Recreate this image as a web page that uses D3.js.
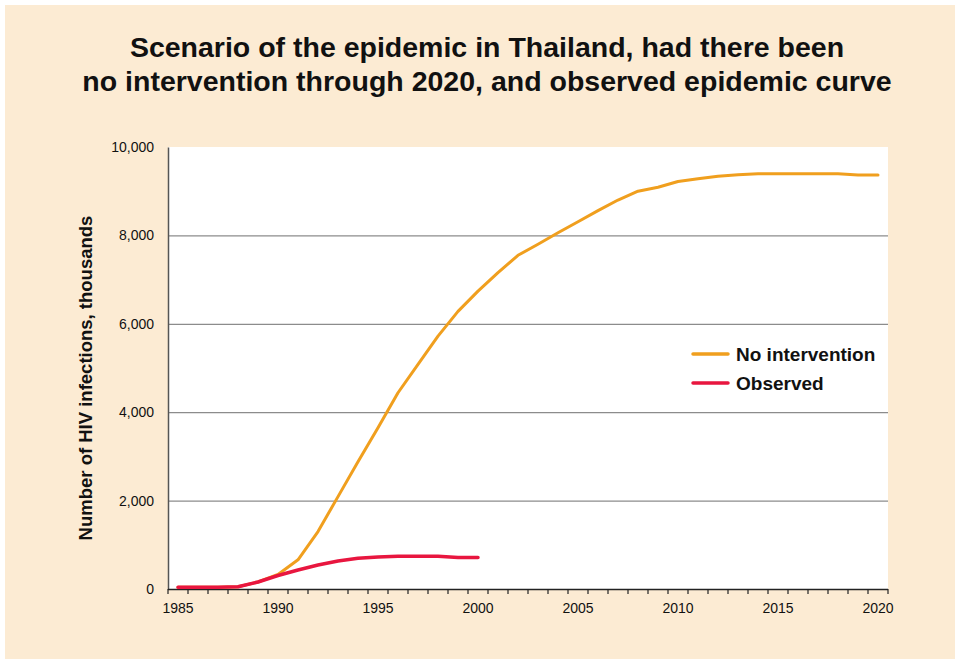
<!DOCTYPE html>
<html>
<head>
<meta charset="utf-8">
<script src="https://cdn.jsdelivr.net/npm/d3@7"></script>
<style>
  html, body { margin: 0; padding: 0; background: #ffffff; }
  svg { display: block; }
</style>
</head>
<body>
<svg id="chart" width="960" height="660"></svg>
<script>
// Years on the category axis
const years = d3.range(1985, 2021);

// Projected infections (thousands) with no intervention, 1985–2020
const noIntervention = [
  38, 38, 38, 52, 159, 330, 660, 1300, 2090, 2880,
  3650, 4440, 5080, 5720, 6280, 6740, 7160, 7550, 7800, 8060,
  8310, 8560, 8800, 9000, 9090, 9220, 9280, 9340, 9370, 9397,
  9397, 9397, 9397, 9397, 9367, 9367
];

// Observed infections (thousands), 1985–2000
const observedYears = d3.range(1985, 2001);
const observed = [
  38, 38, 38, 52, 159, 305, 431, 544, 635, 696,
  726, 740, 740, 740, 710, 710
];

const yTicks = [0, 2000, 4000, 6000, 8000, 10000];
const xLabelYears = [1985, 1990, 1995, 2000, 2005, 2010, 2015, 2020];

const titleLines = [
  "Scenario of the epidemic in Thailand, had there been",
  "no intervention through 2020, and observed epidemic curve"
];
const yTitle = "Number of HIV infections, thousands";
const seriesNames = ["No intervention", "Observed"];
const seriesColors = ["#F09F1E", "#E8163F"];

const svg = d3.select("#chart");
const font = "'Liberation Sans', Arial, sans-serif";

// Beige panel
svg.append("rect")
  .attr("x", 5).attr("y", 5).attr("width", 950).attr("height", 654)
  .attr("fill", "#FCEBD3");

// Title
svg.append("g").selectAll("text").data(titleLines).join("text")
  .attr("x", 487).attr("y", (d, i) => 57 + i * 34)
  .attr("text-anchor", "middle")
  .attr("font-family", font).attr("font-weight", "bold")
  .attr("font-size", 28.5).attr("fill", "#111")
  .text(d => d);

const plot = { left: 168, right: 888, top: 147, bottom: 589 };

const x = d3.scaleBand().domain(years).range([plot.left, plot.right]);
const xc = yr => x(yr) + x.bandwidth() / 2;
const y = d3.scaleLinear().domain([0, 10000]).range([plot.bottom, plot.top]);

// Plot area
svg.append("rect")
  .attr("x", plot.left).attr("y", plot.top)
  .attr("width", plot.right - plot.left).attr("height", plot.bottom - plot.top)
  .attr("fill", "#ffffff");

// Gridlines
svg.append("g").selectAll("line").data(yTicks.filter(v => v > 0 && v < 10000)).join("line")
  .attr("x1", plot.left).attr("x2", plot.right)
  .attr("y1", d => y(d) + 0.5).attr("y2", d => y(d) + 0.5)
  .attr("stroke", "#8c8c8c").attr("stroke-width", 1.2);

// Y axis
const yAxis = svg.append("g")
  .attr("transform", `translate(${plot.left},0)`)
  .call(d3.axisLeft(y).tickValues(yTicks).tickSize(0).tickPadding(14)
    .tickFormat(d3.format(",")));
yAxis.select(".domain").attr("stroke", "#555").attr("stroke-width", 1.5);
yAxis.selectAll("text")
  .attr("font-family", font).attr("font-size", 14).attr("fill", "#111");

// X axis: ticks on category boundaries, labels every five years
const boundaries = years.map(yr => x(yr)).concat([plot.right]);
const xg = svg.append("g");
xg.append("line")
  .attr("x1", plot.left).attr("x2", plot.right)
  .attr("y1", plot.bottom + 0.5).attr("y2", plot.bottom + 0.5)
  .attr("stroke", "#222").attr("stroke-width", 1.5);
xg.selectAll("line.tick").data(boundaries).join("line")
  .attr("class", "tick")
  .attr("x1", d => d).attr("x2", d => d)
  .attr("y1", plot.bottom).attr("y2", plot.bottom + 5)
  .attr("stroke", "#222").attr("stroke-width", 1.2);
xg.selectAll("text").data(xLabelYears).join("text")
  .attr("x", d => xc(d)).attr("y", plot.bottom + 24)
  .attr("text-anchor", "middle")
  .attr("font-family", font).attr("font-size", 14).attr("fill", "#111")
  .text(d => d);

// Y axis title
svg.append("text")
  .attr("transform", `translate(92,${(plot.top + plot.bottom) / 2 + 10}) rotate(-90)`)
  .attr("text-anchor", "middle")
  .attr("font-family", font).attr("font-weight", "bold")
  .attr("font-size", 18.5).attr("fill", "#111")
  .text(yTitle);

const line = d3.line().x(d => xc(d[0])).y(d => y(d[1]));

svg.append("path")
  .datum(years.map((yr, i) => [yr, noIntervention[i]]))
  .attr("d", line).attr("fill", "none")
  .attr("stroke", seriesColors[0]).attr("stroke-width", 3)
  .attr("stroke-linejoin", "round").attr("stroke-linecap", "round");

svg.append("path")
  .datum(observedYears.map((yr, i) => [yr, observed[i]]))
  .attr("d", line).attr("fill", "none")
  .attr("stroke", seriesColors[1]).attr("stroke-width", 3.5)
  .attr("stroke-linejoin", "round").attr("stroke-linecap", "round");

// Legend
const legend = svg.append("g").attr("transform", "translate(693,354)");
seriesNames.forEach((name, i) => {
  const g = legend.append("g").attr("transform", `translate(0,${i * 29})`);
  g.append("line").attr("x1", 0).attr("x2", 35).attr("y1", 0).attr("y2", 0)
    .attr("stroke", seriesColors[i]).attr("stroke-width", 3.5)
    .attr("stroke-linecap", "round");
  g.append("text").attr("x", 43).attr("y", 7)
    .attr("font-family", font).attr("font-weight", "bold")
    .attr("font-size", 19).attr("fill", "#111")
    .text(name);
});
</script>
</body>
</html>
